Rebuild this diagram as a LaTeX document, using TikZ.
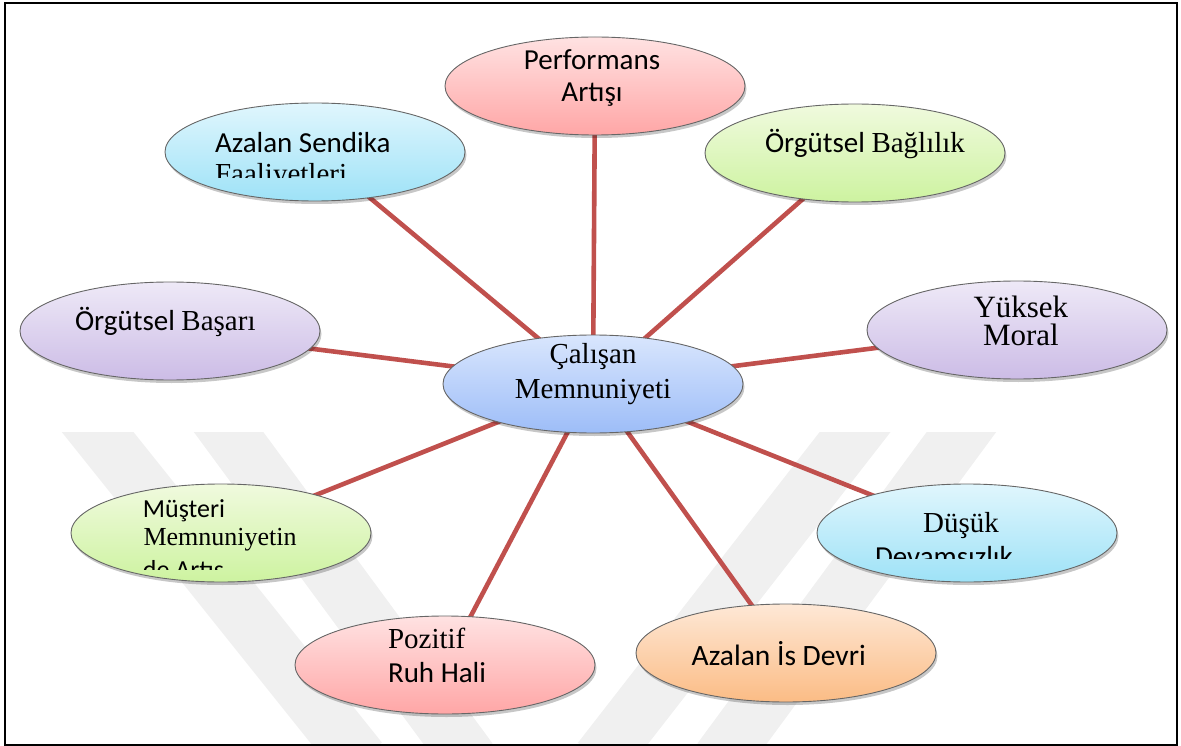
\documentclass[tikz,border=0pt]{standalone}
\usepackage{fontspec}
\setmainfont{Liberation Serif}
\newfontfamily\calfont{Carlito}
\usetikzlibrary{shapes.geometric,shadows}
\pgfdeclarelayer{wm}
\pgfdeclarelayer{bg}
\pgfsetlayers{wm,bg,main}

\definecolor{linkred}{HTML}{C0504D}
\definecolor{wmgray}{HTML}{F0F0F0}
\definecolor{edge}{HTML}{666666}
\definecolor{pinkT}{HTML}{FFE2E2}\definecolor{pinkB}{HTML}{FFA6A6}
\definecolor{cyanT}{HTML}{E0F6FD}\definecolor{cyanB}{HTML}{9EE2F7}
\definecolor{greenT}{HTML}{F0FADE}\definecolor{greenB}{HTML}{CDF3A0}
\definecolor{violetT}{HTML}{EEE9F7}\definecolor{violetB}{HTML}{CCBCE6}
\definecolor{blueT}{HTML}{D9E6FD}\definecolor{blueB}{HTML}{9DBDF8}
\definecolor{orangeT}{HTML}{FEE8D6}\definecolor{orangeB}{HTML}{FBBC85}

\newcommand{\sansT}[1][29]{\calfont\fontsize{#1}{#1}\selectfont}
\newcommand{\serifT}[1][29]{\rmfamily\fontsize{#1}{#1}\selectfont}

\tikzset{
  bubble/.style={ellipse, draw=edge, line width=0.9pt, inner sep=0pt,
    minimum width=300pt, minimum height=98pt,
    drop shadow={shadow xshift=1.5pt, shadow yshift=-3pt, opacity=0.22, fill=black}},
  pinkb/.style={bubble, top color=pinkT, bottom color=pinkB},
  cyanb/.style={bubble, top color=cyanT, bottom color=cyanB},
  greenb/.style={bubble, top color=greenT, bottom color=greenB},
  violetb/.style={bubble, top color=violetT, bottom color=violetB},
  blueb/.style={bubble, top color=blueT, bottom color=blueB},
  orangeb/.style={bubble, top color=orangeT, bottom color=orangeB},
  link/.style={linkred, line width=4.6pt},
  lbl/.style={inner sep=0pt, outer sep=0pt},
  band/.style={wmgray, line width=56pt}
}

\begin{document}
\begin{tikzpicture}[x=1pt, y=-1pt]
\useasboundingbox (0,0) rectangle (1181,746);

% faint watermark in the lower half
\begin{pgfonlayer}{wm}
  \begin{scope}
    \clip (8,432) rectangle (1175,743);
    \draw[band] (72,400) -- (360,760);
    \draw[band] (205,400) -- (470,760);
    \draw[band] (880,400) -- (600,760);
    \draw[band] (985,400) -- (720,760);
  \end{scope}
\end{pgfonlayer}

% bubbles
\node[blueb]   (core)  at (593,384) {};
\node[pinkb]   (perf)  at (595,86)  {};
\node[cyanb]   (send)  at (315,152) {};
\node[greenb]  (bagl)  at (855,153) {};
\node[violetb] (basa)  at (170,331) {};
\node[violetb] (moral) at (1017,330) {};
\node[greenb]  (must)  at (221,533) {};
\node[cyanb]   (devam) at (967,533) {};
\node[pinkb]   (ruh)   at (445,665) {};
\node[orangeb] (devir) at (786,653) {};

% spokes, drawn behind the bubbles
\begin{pgfonlayer}{bg}
  \foreach \n in {perf,send,bagl,basa,moral,must,devam,ruh,devir}
    \draw[link] (core.center) -- (\n.center);
\end{pgfonlayer}

% labels
\node[lbl, anchor=base] (t-perf1) at (592,70) {\sansT Performans};
\node[lbl, anchor=base] (t-perf2) at (592,102) {\sansT Artışı};

\node[lbl, anchor=base west] (t-send1) at (215,153) {\sansT Azalan Sendika};
\begin{scope}
  \clip (200,155) rectangle (420,178);
  \node[lbl, anchor=base west] (t-send2) at (215,184) {\serifT Faaliyetleri};
\end{scope}

\node[lbl, anchor=base west] (t-bagl) at (765,153) {\sansT Örgütsel \serifT Bağlılık};
\node[lbl, anchor=base west] (t-basa) at (75,330) {\sansT Örgütsel \serifT Başarı};

\node[lbl, anchor=base] (t-moral1) at (1017,317) {\serifT[31] Yüksek};
\node[lbl, anchor=base] (t-moral2) at (1017,345) {\serifT[31] Moral};

\node[lbl, anchor=base] (t-core1) at (593,363) {\serifT Çalışan};
\node[lbl, anchor=base] (t-core2) at (593,398) {\serifT Memnuniyeti};

\node[lbl, anchor=base west] (t-must1) at (137,517) {\sansT[26] Müşteri};
\node[lbl, anchor=base west] (t-must2) at (137,545) {\serifT[26] Memnuniyetin};
\begin{scope}
  \clip (120,550) rectangle (320,569);
  \node[lbl, anchor=base west] (t-must3) at (137,578) {\sansT[26] de Artış};
\end{scope}

\node[lbl, anchor=base] (t-devam1) at (961,532) {\serifT Düşük};
\begin{scope}
  \clip (860,538) rectangle (1060,558);
  \node[lbl, anchor=base west] (t-devam2) at (875,566) {\sansT Devamsızlık};
\end{scope}

\node[lbl, anchor=base west] (t-ruh1) at (388,648) {\serifT Pozitif};
\node[lbl, anchor=base west] (t-ruh2) at (388,682) {\sansT Ruh Hali};

\node[lbl, anchor=base west] (t-devir) at (685,665) {\sansT[29.5] Azalan İs Devri};

% outer frame
\draw[black, line width=2pt] (5,3) rectangle (1177,745);
\end{tikzpicture}
\end{document}
